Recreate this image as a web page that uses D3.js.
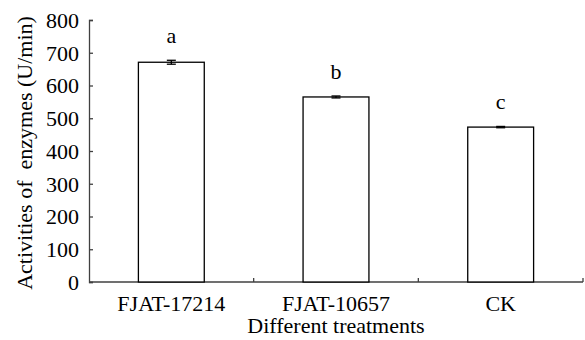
<!DOCTYPE html>
<html>
<head>
<meta charset="utf-8">
<script src="https://cdn.jsdelivr.net/npm/d3@7"></script>
<style>
  body { margin: 0; background: #fff; }
</style>
</head>
<body>
<svg id="chart" width="585" height="340"></svg>
<script>
const categories = ["FJAT-17214", "FJAT-10657", "CK"];
const values = [671, 565, 473];
const errors = [6, 3, 2];
const letters = ["a", "b", "c"];
const yTicks = [0, 100, 200, 300, 400, 500, 600, 700, 800];

const width = 585, height = 340;
const margin = {top: 20, right: 2, bottom: 58, left: 89};
const innerWidth = width - margin.left - margin.right;
const innerHeight = height - margin.top - margin.bottom;
const FONT = "'Liberation Serif', Tinos, 'Times New Roman', serif";
const axisColor = "#404040";

const svg = d3.select("#chart");
const g = svg.append("g")
  .attr("transform", `translate(${margin.left}, ${margin.top})`);

const xScale = d3.scaleBand()
  .domain(categories)
  .range([0, innerWidth])
  .padding(0);

const yScale = d3.scaleLinear()
  .domain([0, 800])
  .range([innerHeight, 0]);

// y axis, ticks pointing inward
const yAxisG = g.append("g")
  .call(d3.axisLeft(yScale).tickValues(yTicks).tickSize(-4).tickPadding(10))
  .attr("font-family", null)
  .attr("font-size", null);
yAxisG.select(".domain").attr("stroke", axisColor).attr("stroke-width", 1.3);
yAxisG.selectAll(".tick line").attr("stroke", axisColor).attr("stroke-width", 1.3);
yAxisG.selectAll(".tick text")
  .style("font-family", FONT)
  .style("font-size", "22px")
  .attr("fill", "#000")
  .attr("dy", "0.34em");

// x axis: ticks at category boundaries pointing up
const xAxisG = g.append("g")
  .attr("transform", `translate(0, ${innerHeight})`);
xAxisG.append("line")
  .attr("x1", 0).attr("x2", innerWidth)
  .attr("stroke", axisColor).attr("stroke-width", 1.3);
xAxisG.selectAll(".bound")
  .data(categories)
  .enter()
  .append("line")
  .attr("class", "bound")
  .attr("x1", d => xScale(d) + xScale.bandwidth())
  .attr("x2", d => xScale(d) + xScale.bandwidth())
  .attr("y1", 0).attr("y2", -4)
  .attr("stroke", axisColor).attr("stroke-width", 1.3);
xAxisG.selectAll(".cat")
  .data(categories)
  .enter()
  .append("text")
  .attr("class", "cat")
  .attr("x", d => xScale(d) + xScale.bandwidth() / 2)
  .attr("y", 29)
  .attr("text-anchor", "middle")
  .style("font-family", FONT)
  .style("font-size", "22px")
  .text(d => d);

// bars
const barW = xScale.bandwidth() * 0.4;
const bars = g.selectAll(".bar")
  .data(categories)
  .enter()
  .append("g")
  .attr("class", "bar");

bars.append("rect")
  .attr("x", d => xScale(d) + (xScale.bandwidth() - barW) / 2)
  .attr("y", (d, i) => yScale(values[i]))
  .attr("width", barW)
  .attr("height", (d, i) => innerHeight - yScale(values[i]))
  .attr("fill", "#fff")
  .attr("stroke", "#000")
  .attr("stroke-width", 1.3);

// error bars + significance letters
const capW = 4.5;
bars.each(function(d, i) {
  const cx = xScale(d) + xScale.bandwidth() / 2;
  const sel = d3.select(this);
  const y1 = yScale(values[i] + errors[i]);
  const y2 = yScale(values[i] - errors[i]);
  sel.append("line")
    .attr("x1", cx).attr("x2", cx).attr("y1", y1).attr("y2", y2)
    .attr("stroke", "#000").attr("stroke-width", 1.3);
  [y1, y2].forEach(y => {
    sel.append("line")
      .attr("x1", cx - capW).attr("x2", cx + capW).attr("y1", y).attr("y2", y)
      .attr("stroke", "#000").attr("stroke-width", 1.3);
  });
  sel.append("text")
    .attr("x", cx)
    .attr("y", y1 - 17)
    .attr("text-anchor", "middle")
    .style("font-family", FONT)
    .style("font-size", "22px")
    .text(letters[i]);
});

// axis titles
svg.append("text")
  .attr("x", margin.left + innerWidth / 2)
  .attr("y", 333)
  .attr("text-anchor", "middle")
  .style("font-family", FONT)
  .style("font-size", "22px")
  .text("Different treatments");

svg.append("text")
  .attr("transform", `translate(32, ${margin.top + innerHeight / 2 + 2}) rotate(-90)`)
  .attr("text-anchor", "middle")
  .style("font-family", FONT)
  .style("font-size", "22px")
  .style("white-space", "pre")
  .text("Activities of  enzymes (U/min)");
</script>
</body>
</html>
